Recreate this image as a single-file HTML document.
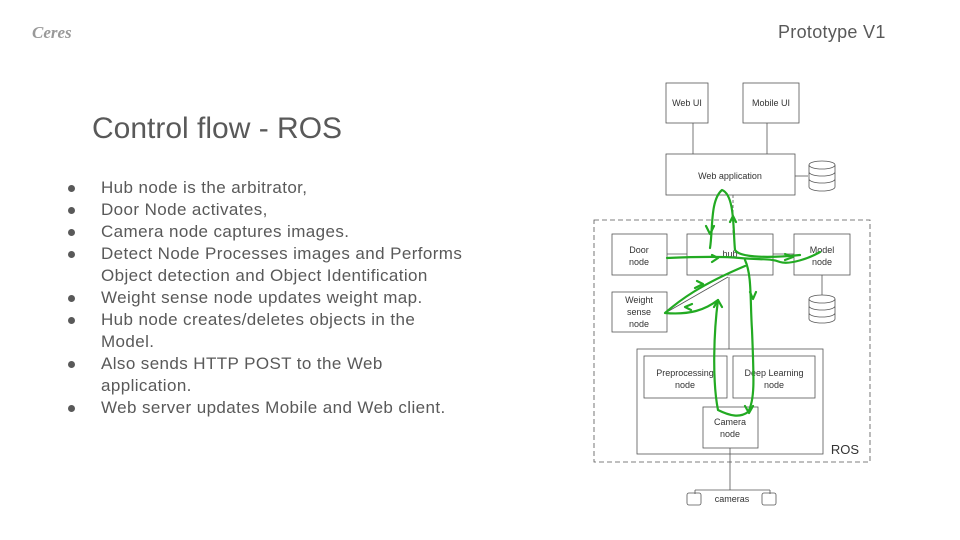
<!DOCTYPE html>
<html><head><meta charset="utf-8"><style>
body{margin:0;width:960px;height:540px;background:#fff;position:relative;overflow:hidden;font-family:"Liberation Sans",sans-serif;color:#595959}
.t{position:absolute;white-space:nowrap}
ul{position:absolute;left:60px;top:177px;margin:0;padding:0;list-style:none;font-size:17px;line-height:22px;letter-spacing:0.4px}
li{position:relative;padding-left:41px}
li:before{content:"";position:absolute;left:8px;top:8px;width:7px;height:7px;border-radius:50%;background:#595959}
</style></head><body>
<div class="t" style="left:32px;top:23px;font:italic bold 17px 'Liberation Serif',serif;color:#999">Ceres</div>
<div class="t" style="left:778px;top:22px;font-size:18px;letter-spacing:0.3px">Prototype V1</div>
<div class="t" style="left:92px;top:112px;font-size:30px">Control flow - ROS</div>
<ul>
<li>Hub node is the arbitrator,</li>
<li>Door Node activates,</li>
<li>Camera node captures images.</li>
<li>Detect Node Processes images and Performs<br>Object detection and Object Identification</li>
<li>Weight sense node updates weight map.</li>
<li>Hub node creates/deletes objects in the<br>Model.</li>
<li>Also sends HTTP POST to the Web<br>application.</li>
<li>Web server updates Mobile and Web client.</li>
</ul>
<svg width="960" height="540" style="position:absolute;left:0;top:0" font-family="Liberation Sans,sans-serif" font-size="9" fill="none" stroke="#555" stroke-width="0.8">
<rect x="666" y="83" width="42" height="40"/><rect x="743" y="83" width="56" height="40"/>
<rect x="666" y="154" width="129" height="41"/>
<line x1="693" y1="123" x2="693" y2="154"/><line x1="767" y1="123" x2="767" y2="154"/>
<line x1="795" y1="176" x2="808" y2="176"/>
<g><ellipse cx="822" cy="165" rx="13" ry="4"/><path d="M809 165v22a13 4 0 0 0 26 0v-22M809 172a13 4 0 0 0 26 0M809 179a13 4 0 0 0 26 0"/></g>
<rect x="594" y="220" width="276" height="242" stroke-dasharray="5,3"/>
<rect x="612" y="234" width="55" height="41"/><rect x="687" y="234" width="86" height="41"/><rect x="794" y="234" width="56" height="41"/>
<rect x="612" y="292" width="55" height="40"/>
<g><ellipse cx="822" cy="299" rx="13" ry="4"/><path d="M809 299v20a13 4 0 0 0 26 0v-20M809 306a13 4 0 0 0 26 0M809 313a13 4 0 0 0 26 0"/></g>
<line x1="822" y1="275" x2="822" y2="295"/>
<line x1="667" y1="254" x2="687" y2="254"/><line x1="773" y1="254" x2="794" y2="254"/>
<line x1="667" y1="312" x2="728" y2="277"/><line x1="729" y1="277" x2="729" y2="349"/>
<line x1="733" y1="195" x2="733" y2="234" stroke-dasharray="3,2"/>
<rect x="637" y="349" width="186" height="105"/>
<rect x="644" y="356" width="83" height="42"/><rect x="733" y="356" width="82" height="42"/>
<rect x="703" y="407" width="55" height="41"/>
<path d="M730 448V490M695 490H770M695 490v4M770 490v4"/>
<rect x="687" y="493" width="14" height="12" rx="2"/><rect x="762" y="493" width="14" height="12" rx="2"/>
<g fill="#333" stroke="none" text-anchor="middle">
<text x="687" y="106">Web UI</text><text x="771" y="106">Mobile UI</text>
<text x="730" y="179">Web application</text>
<text x="639" y="253">Door</text><text x="639" y="265">node</text>
<text x="730" y="257">hub</text>
<text x="822" y="253">Model</text><text x="822" y="265">node</text>
<text x="639" y="303">Weight</text><text x="639" y="315">sense</text><text x="639" y="327">node</text>
<text x="685" y="376">Preprocessing</text><text x="685" y="388">node</text>
<text x="774" y="376">Deep Learning</text><text x="774" y="388">node</text>
<text x="730" y="425">Camera</text><text x="730" y="437">node</text>
<text x="732" y="502">cameras</text>
<text x="845" y="454" font-size="13">ROS</text>
</g>
<g stroke="#22aa22" stroke-width="2.2" stroke-linecap="round" stroke-linejoin="round">
<path d="M667 258C690 257 720 256 740 258C760 260 770 258 780 262C790 265 810 258 820 252"/>
<path d="M710 248C713 230 710 200 722 190C735 195 733 230 735 250C740 258 770 258 800 255"/>
<path d="M745 260C752 275 750 300 752 330C754 380 755 400 748 412C740 418 730 416 718 410C712 380 714 330 718 300C705 310 690 315 665 313C680 300 700 285 745 266"/>
<path d="M706 226l4 8 4-8M730 222l3-6 3 6M712 262l6-4-6-3M785 254l8 3-8 3M750 292l3 7 3-7M745 406l4 7 4-7M714 307l4-7 4 7M692 304l-7 3 6 3M695 288l8-4-6-3"/>
</g>
</svg>
</body></html>
